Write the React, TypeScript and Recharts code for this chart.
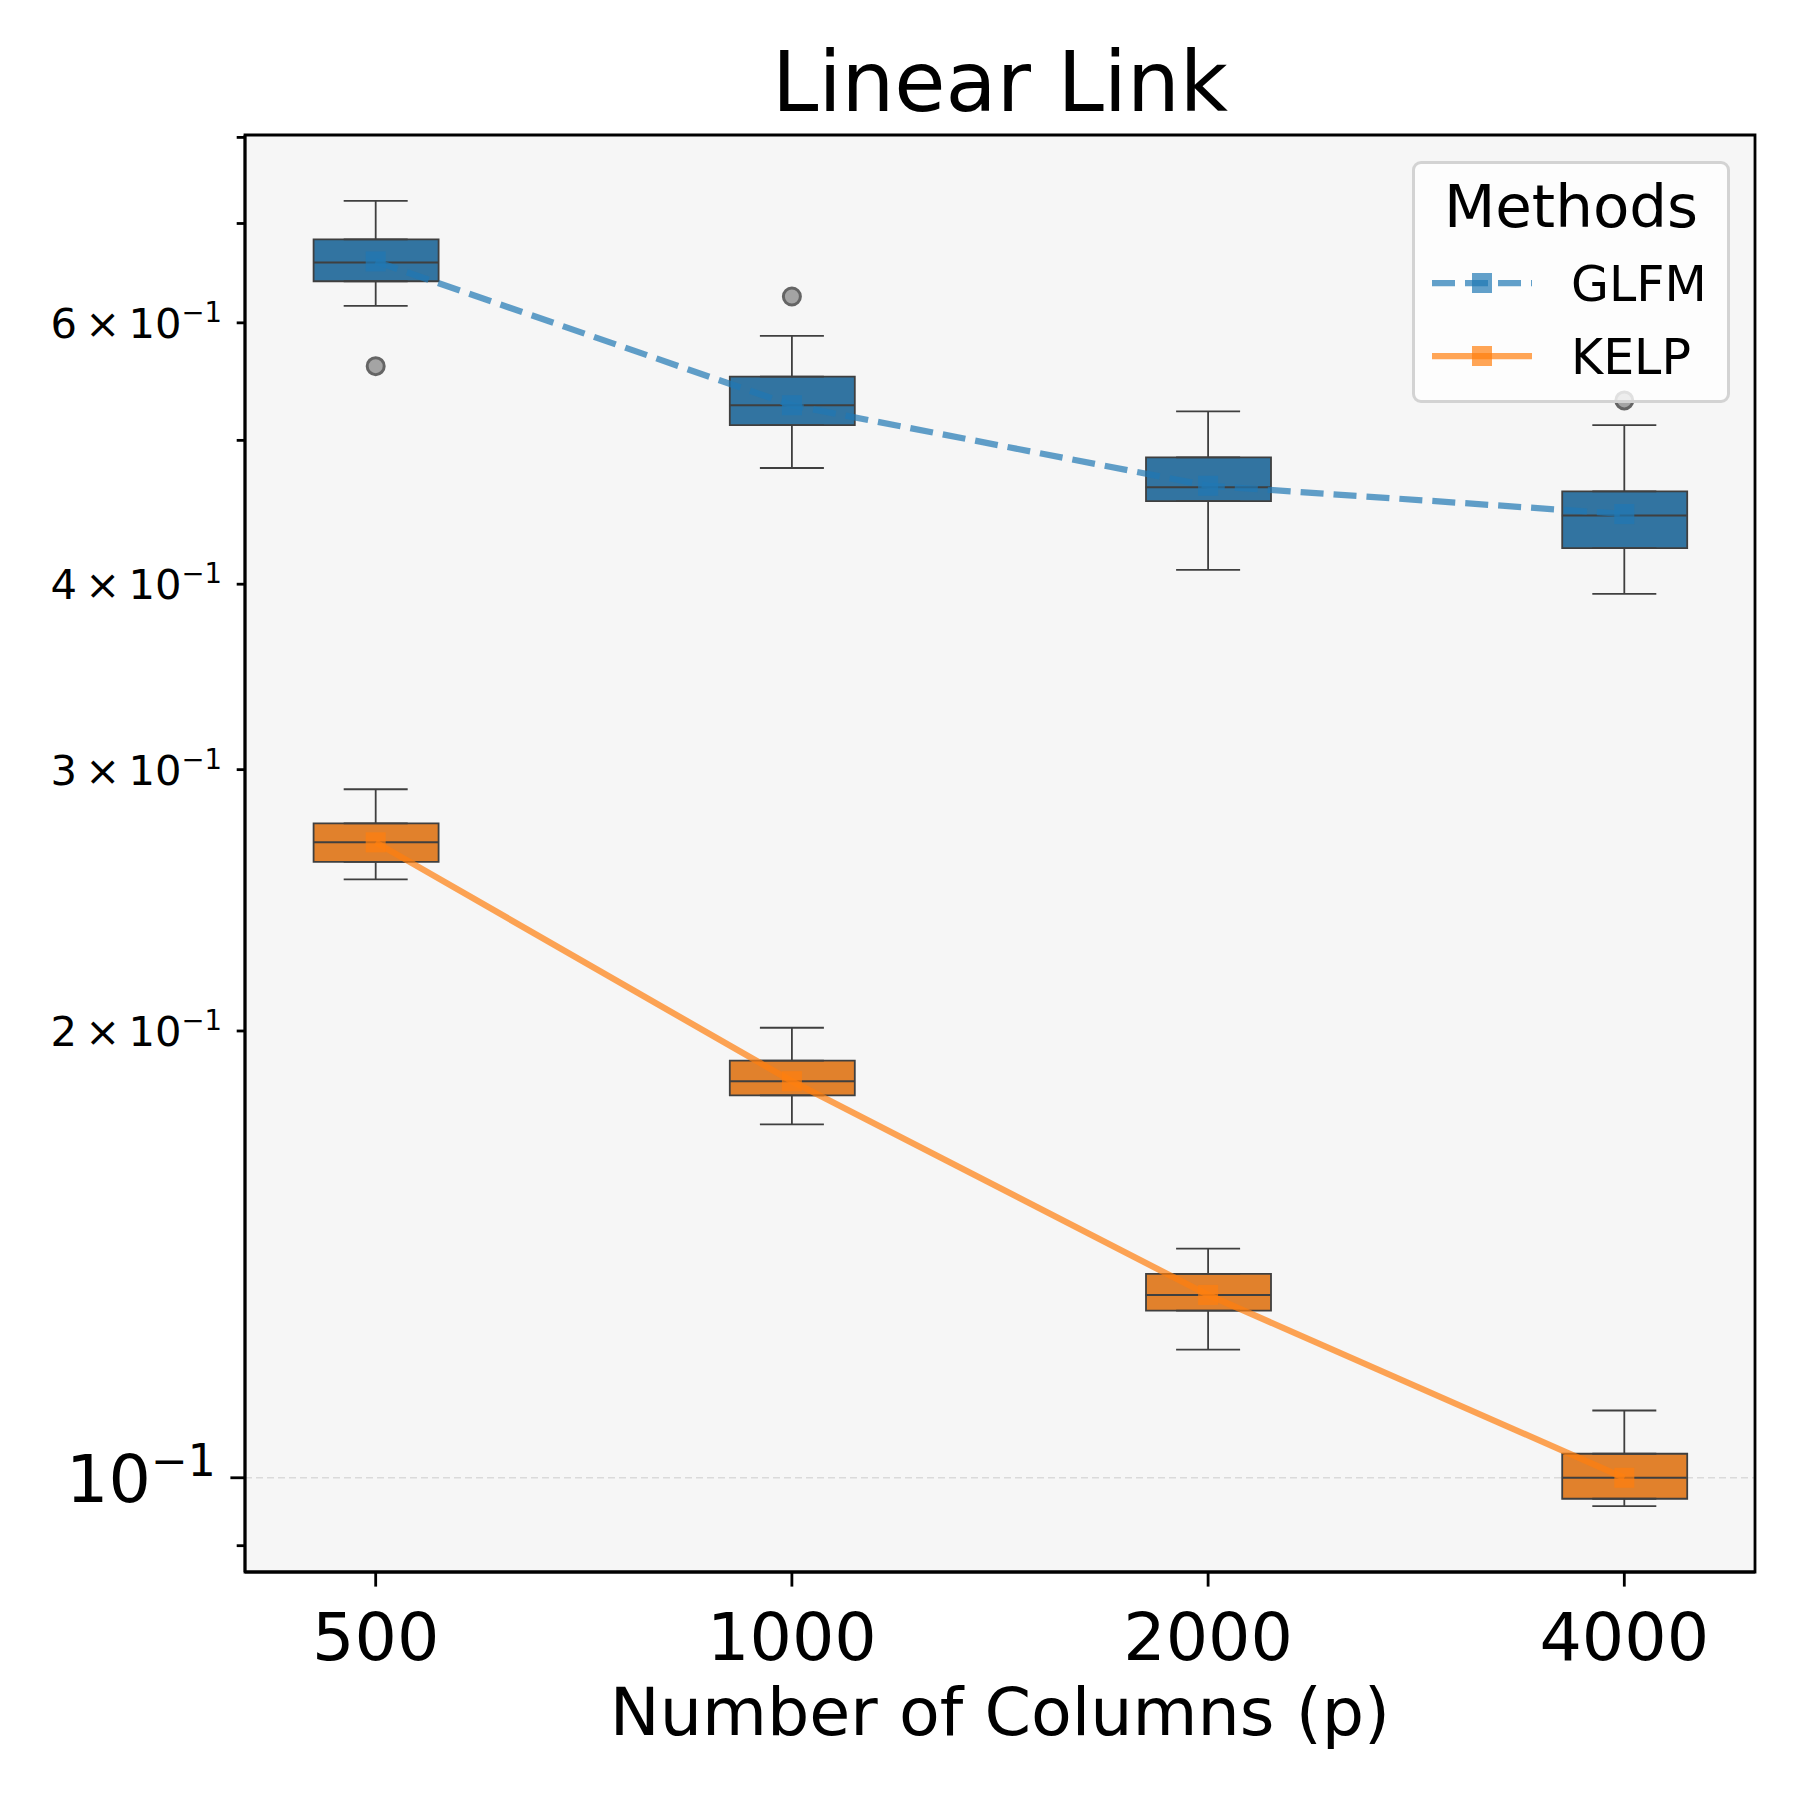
import React from 'react';
import {
  ComposedChart, Bar, Cell, Line, Scatter, ErrorBar, XAxis, YAxis,
  CartesianGrid, Legend, Customized, ReferenceArea,
} from 'recharts';

// ---------- data ----------
const categories = ['500', '1000', '2000', '4000'];
const seriesNames = ['GLFM', 'KELP'];

const glfmWhiskerLow = [0.616, 0.479, 0.409, 0.394];
const glfmQ1 = [0.640, 0.512, 0.455, 0.423];
const glfmMedian = [0.659, 0.528, 0.465, 0.445];
const glfmQ3 = [0.683, 0.552, 0.487, 0.462];
const glfmWhiskerHigh = [0.725, 0.588, 0.523, 0.512];
const glfmMean = [0.660, 0.528, 0.466, 0.446];
const glfmOutlierCategory = [0, 1, 3];
const glfmOutlierValue = [0.561, 0.625, 0.532];

const kelpWhiskerLow = [0.253, 0.173, 0.122, 0.0957];
const kelpQ1 = [0.260, 0.181, 0.1296, 0.0968];
const kelpMedian = [0.268, 0.185, 0.1328, 0.100];
const kelpQ3 = [0.276, 0.191, 0.1372, 0.1038];
const kelpWhiskerHigh = [0.291, 0.201, 0.1427, 0.111];
const kelpMean = [0.268, 0.185, 0.1328, 0.100];

const yTickValues = [0.09, 0.1, 0.2, 0.3, 0.4, 0.5, 0.6, 0.7, 0.8];
const yMajorTicks = [0.1];
const yMinorLabelValues = [0.2, 0.3, 0.4, 0.6];
const yMinorLabelMantissa = ['2', '3', '4', '6'];
const xDomain = [-0.314, 3.314];
const yDomain = [0.0864, 0.803];

// ---------- style ----------
const FONT = '"DejaVu Sans", sans-serif';
const boxColors = ['#3274a1', '#e1812c'];
const lineColors = ['#1f77b4', '#ff7f0e'];
const lineDash = ['23 10', undefined];
const EDGE = '#3f3f3f';
const SPINE = { stroke: '#000', strokeWidth: 2.8 };
const HALF_BOX = 0.15;

// ---------- derived tables ----------
const stats = [
  { lo: glfmWhiskerLow, q1: glfmQ1, med: glfmMedian, q3: glfmQ3, hi: glfmWhiskerHigh, mean: glfmMean },
  { lo: kelpWhiskerLow, q1: kelpQ1, med: kelpMedian, q3: kelpQ3, hi: kelpWhiskerHigh, mean: kelpMean },
];
const xTicks = categories.map((_, i) => i);
const boxRows = stats.flatMap((s, si) =>
  categories.map((_, i) => ({ x: i, range: [s.q1[i], s.q3[i]], series: si })));
const upperWhiskers = stats.flatMap((s) =>
  categories.map((_, i) => ({ x: i, y: s.q3[i], err: [0, s.hi[i] - s.q3[i]] })));
const lowerWhiskers = stats.flatMap((s) =>
  categories.map((_, i) => ({ x: i, y: s.q1[i], err: [s.q1[i] - s.lo[i], 0] })));
const medians = stats.flatMap((s) =>
  categories.map((_, i) => ({ x: i, y: s.med[i], err: HALF_BOX })));
const meanLines = stats.map((s) => categories.map((_, i) => ({ x: i, y: s.mean[i] })));
const outliers = glfmOutlierCategory.map((c, k) => ({ x: c, y: glfmOutlierValue[k] }));

// ---------- renderers ----------
const noShape = () => <g />;

const OutlierShape = (p: any) => (
  <circle cx={p.cx} cy={p.cy} r={8.5} fill="#a4a4a4" stroke="#656565" strokeWidth={3} />
);

const makeSquareDot = (color: string) => (p: any) => (
  <rect key={`d-${p.index}`} x={p.cx - 10} y={p.cy - 10} width={20} height={20}
    fill={color} fillOpacity={0.7} stroke="none" />
);

function YTick(props: any) {
  const { x, y, payload } = props;
  const v = payload.value;
  const major = yMajorTicks.includes(v);
  const len = major ? 14.6 : 8.3;
  const mi = yMinorLabelValues.indexOf(v);
  let label = null;
  if (major) {
    label = (
      <text x={x - len - 14.6} y={y + 24} textAnchor="end" fontFamily={FONT} fontSize={66.7} fill="#000">
        10<tspan dy={-26} fontSize={44}>−1</tspan>
      </text>
    );
  } else if (mi >= 0) {
    label = (
      <text x={x - len - 14.6} y={y + 15} textAnchor="end" fontFamily={FONT} fontSize={41.7} fill="#000">
        {`${yMinorLabelMantissa[mi]}\u2009×\u200910`}<tspan dy={-16} fontSize={27.5}>−1</tspan>
      </text>
    );
  }
  return (
    <g>
      <line x1={x} x2={x - len} y1={y} y2={y} stroke="#000" strokeWidth={2.8} />
      {label}
    </g>
  );
}

function XTick(props: any) {
  const { x, y, payload } = props;
  return (
    <g>
      <line x1={x} x2={x} y1={y} y2={y + 14.6} stroke="#000" strokeWidth={2.8} />
      <text x={x} y={y + 88} textAnchor="middle" fontFamily={FONT} fontSize={66.7} fill="#000">
        {categories[payload.value]}
      </text>
    </g>
  );
}

const Titles = () => (
  <g>
    <text x={1000} y={111} textAnchor="middle" fontFamily={FONT} fontSize={83.3} fill="#000">Linear Link</text>
    <text x={1000} y={1735} textAnchor="middle" fontFamily={FONT} fontSize={66.7} fill="#000">Number of Columns (p)</text>
  </g>
);

const LegendBox = () => (
  <div style={{
    width: 318, height: 242, boxSizing: 'border-box', border: '3px solid #d3d3d3',
    borderRadius: 9, background: 'rgba(255,255,255,0.8)', position: 'relative',
  }}>
    <svg width={318} height={242} style={{ position: 'absolute', left: -3, top: -3 }}>
      <text x={159} y={66} textAnchor="middle" fontFamily={FONT} fontSize={59.5} fill="#000">Methods</text>
      {seriesNames.map((name, i) => {
        const cy = 122 + i * 73;
        return (
          <g key={name}>
            <line x1={20} x2={120} y1={cy} y2={cy} stroke={lineColors[i]} strokeOpacity={0.7}
              strokeWidth={6.25} strokeDasharray={lineDash[i]} />
            <rect x={60} y={cy - 10} width={20} height={20} fill={lineColors[i]} fillOpacity={0.7} />
            <text x={159} y={cy + 18} fontFamily={FONT} fontSize={49} fill="#000">{name}</text>
          </g>
        );
      })}
    </svg>
  </div>
);

export default function App() {
  return (
    <div style={{ position: 'absolute', left: 0, top: 0, width: 1800, height: 1800, background: '#fff' }}>
      <ComposedChart width={1800} height={1800} data={boxRows}
        margin={{ top: 135, right: 45, bottom: 128, left: 45 }}>
        <CartesianGrid fill="#f6f6f6" vertical={false} horizontal horizontalValues={yMajorTicks}
          stroke="#dadada" strokeDasharray="7 4" strokeWidth={1.4} />
        <XAxis dataKey="x" type="number" domain={xDomain} allowDataOverflow ticks={xTicks}
          tick={<XTick />} tickLine={false} tickSize={0} tickMargin={0} axisLine={SPINE}
          height={100} interval={0} />
        <YAxis dataKey="y" type="number" scale="log" domain={yDomain} allowDataOverflow
          ticks={yTickValues} tick={<YTick />} tickLine={false} tickSize={0} tickMargin={0}
          axisLine={SPINE} width={200} interval={0} />

        <Scatter data={upperWhiskers} shape={noShape} isAnimationActive={false}>
          <ErrorBar dataKey="err" direction="y" width={32} stroke={EDGE} strokeWidth={1.8} isAnimationActive={false} />
        </Scatter>
        <Scatter data={lowerWhiskers} shape={noShape} isAnimationActive={false}>
          <ErrorBar dataKey="err" direction="y" width={32} stroke={EDGE} strokeWidth={1.8} isAnimationActive={false} />
        </Scatter>
        <Bar dataKey="range" barSize={125} stroke={EDGE} strokeWidth={1.8} isAnimationActive={false}>
          {boxRows.map((r, i) => <Cell key={i} fill={boxColors[r.series]} />)}
        </Bar>
        <Scatter data={medians} shape={noShape} isAnimationActive={false}>
          <ErrorBar dataKey="err" direction="x" width={0} stroke={EDGE} strokeWidth={2} isAnimationActive={false} />
        </Scatter>
        <Scatter data={outliers} shape={OutlierShape} isAnimationActive={false} />
        {meanLines.map((d, i) => (
          <Line key={seriesNames[i]} data={d} dataKey="y" name={seriesNames[i]} type="linear"
            stroke={lineColors[i]} strokeOpacity={0.7} strokeWidth={6.25}
            strokeDasharray={lineDash[i]} dot={makeSquareDot(lineColors[i])}
            activeDot={false} isAnimationActive={false} />
        ))}
        <ReferenceArea x1={xDomain[0]} x2={xDomain[1]} y1={yDomain[0]} y2={yDomain[1]}
          fill="none" stroke="#000" strokeWidth={2.8} ifOverflow="visible" />
        <Customized component={Titles} />
        <Legend content={() => <LegendBox />} layout="horizontal" verticalAlign="middle" align="center"
          wrapperStyle={{ left: 1412, top: 161, width: 318, height: 242 }} />
      </ComposedChart>
    </div>
  );
}
